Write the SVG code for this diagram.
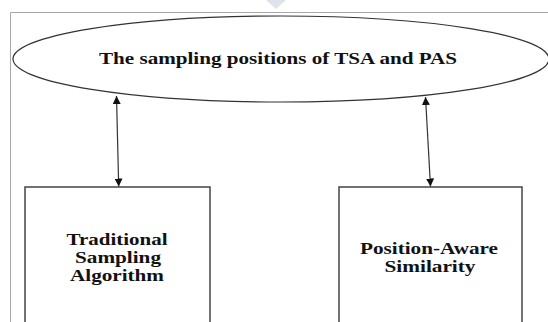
<svg xmlns="http://www.w3.org/2000/svg" width="548" height="322" viewBox="0 0 548 322">
<style>
.lbl{font-family:"Liberation Serif","Times New Roman",serif;font-weight:bold;font-size:16px;fill:#111;text-anchor:middle}
.box{fill:#fff;stroke:#444;stroke-width:1.5}
.conn{stroke:#333;stroke-width:1.2;fill:none}
</style>
<defs>
<marker id="ah" viewBox="0 0 10 10" refX="10" refY="5" markerWidth="8" markerHeight="8" markerUnits="userSpaceOnUse" orient="auto-start-reverse">
<path d="M0,0 L10,5 L0,10 z" fill="#111"/>
</marker>
</defs>
<rect width="548" height="322" fill="#fff"/>
<polygon points="266,0 286,0 276,9" fill="#dde4ec"/>
<path d="M548,12.5 H10.5 V322" fill="none" stroke="#a8a8a8" stroke-width="1"/>
<g id="top">
<ellipse cx="281" cy="59" rx="268" ry="43" fill="#fff" stroke="#333" stroke-width="1.2"/>
<text class="lbl" x="278" y="64" textLength="358" lengthAdjust="spacingAndGlyphs">The sampling positions of TSA and PAS</text>
</g>
<g id="tsa">
<rect class="box" x="25" y="187" width="185" height="150"/>
<text class="lbl" x="117" y="245" textLength="101" lengthAdjust="spacingAndGlyphs">Traditional</text>
<text class="lbl" x="118" y="263" textLength="86" lengthAdjust="spacingAndGlyphs">Sampling</text>
<text class="lbl" x="117" y="281" textLength="94" lengthAdjust="spacingAndGlyphs">Algorithm</text>
</g>
<g id="pas">
<rect class="box" x="339" y="187" width="183" height="150"/>
<text class="lbl" x="429" y="254" textLength="138" lengthAdjust="spacingAndGlyphs">Position-Aware</text>
<text class="lbl" x="430" y="272" textLength="91" lengthAdjust="spacingAndGlyphs">Similarity</text>
</g>
<g id="connectors">
<line class="conn" x1="116.5" y1="96" x2="118.7" y2="186.5" marker-start="url(#ah)" marker-end="url(#ah)"/>
<line class="conn" x1="425.5" y1="97" x2="430.5" y2="186.5" marker-start="url(#ah)" marker-end="url(#ah)"/>
</g>
</svg>
